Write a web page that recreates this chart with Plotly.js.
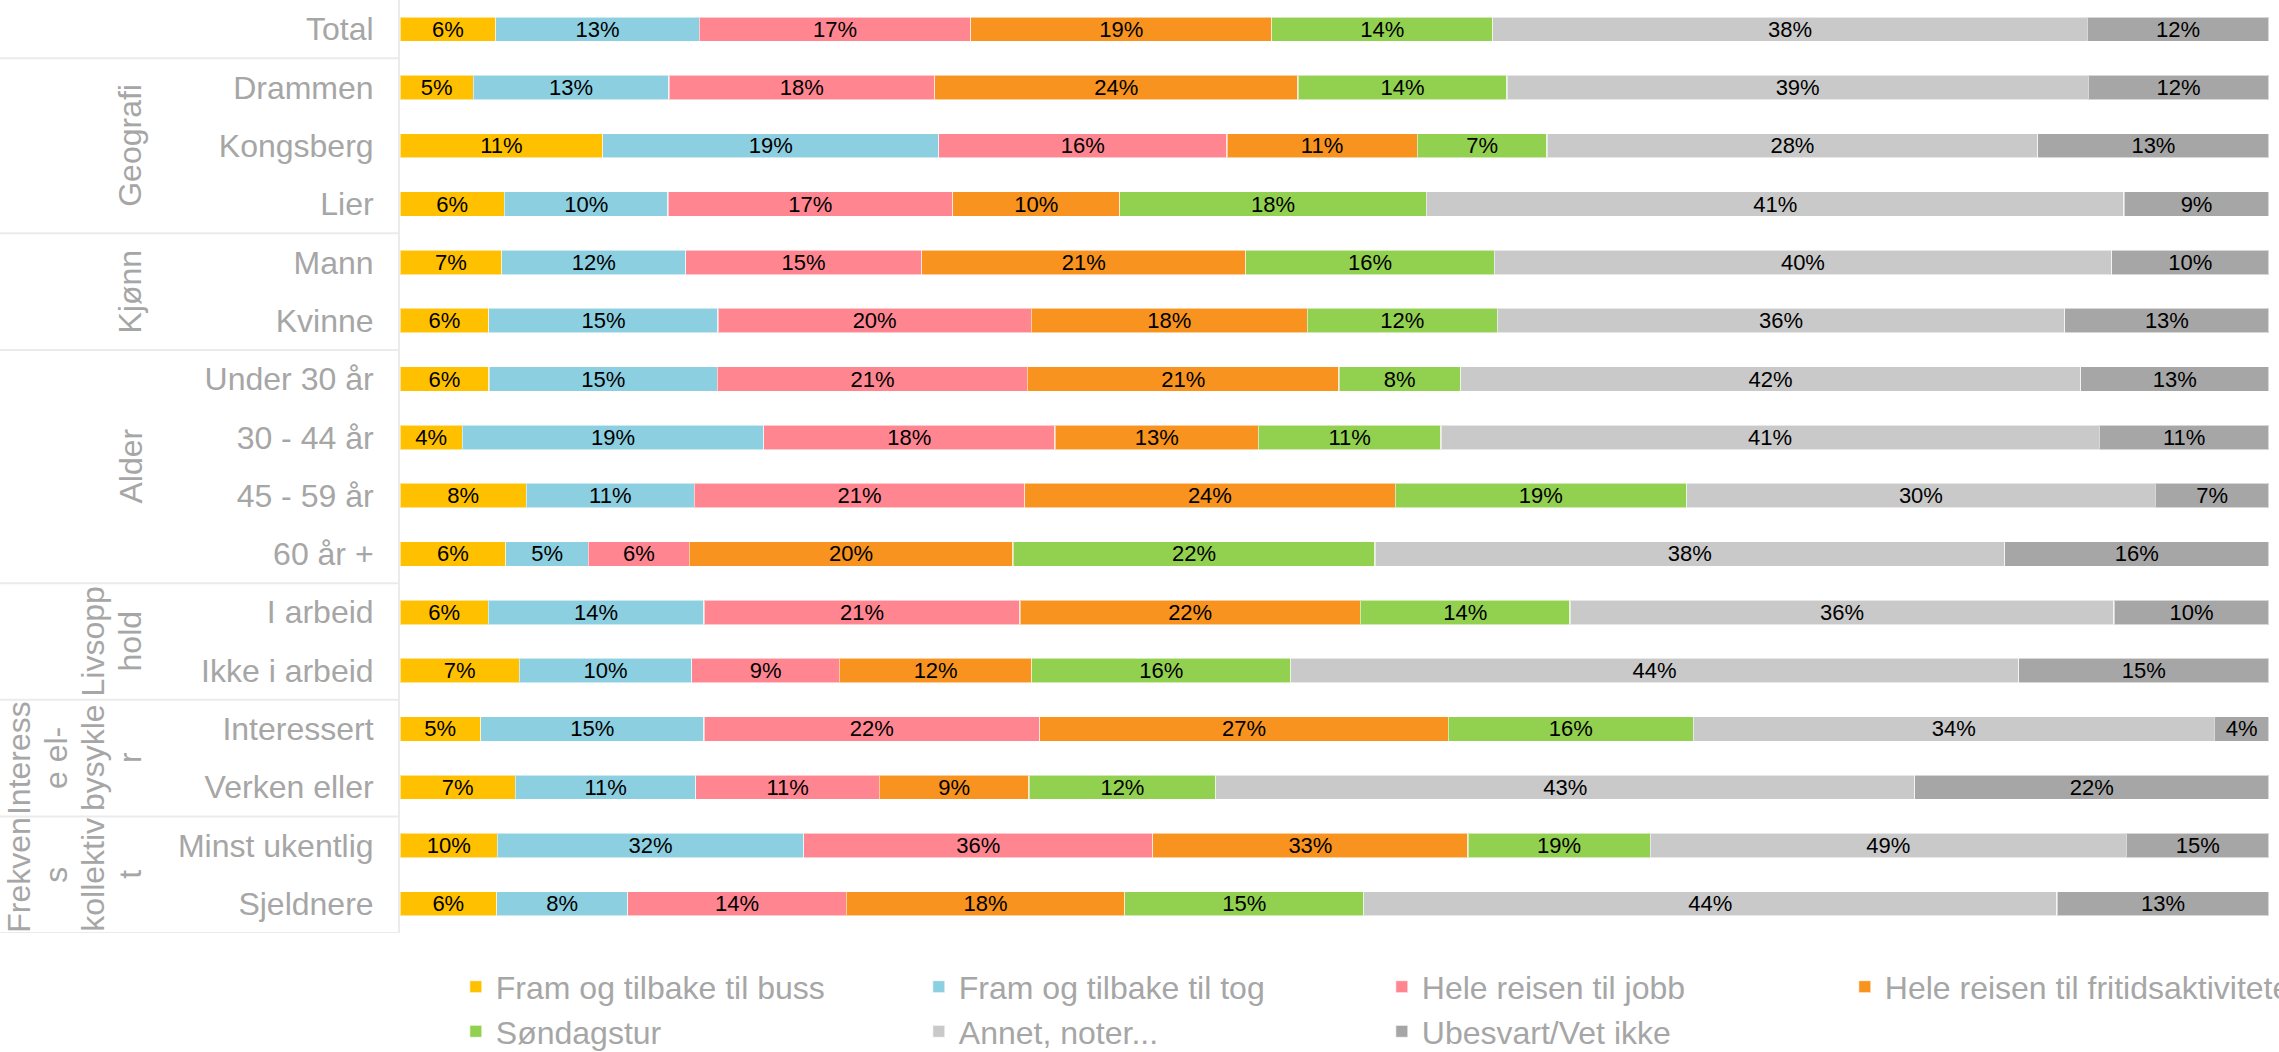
<!DOCTYPE html>
<html>
<head>
<meta charset="utf-8">
<script src="https://cdn.plot.ly/plotly-3.0.1.min.js"></script>
<style>
  html, body { margin: 0; padding: 0; background: #ffffff; }
  #chart { width: 2279px; height: 1052px; }
</style>
</head>
<body>
<div id="chart"></div>
<script>
// Categories (top to bottom)
const categories = ["Total", "Drammen", "Kongsberg", "Lier", "Mann", "Kvinne",
  "Under 30 år", "30 - 44 år", "45 - 59 år", "60 år +", "I arbeid", "Ikke i arbeid",
  "Interessert", "Verken eller", "Minst ukentlig", "Sjeldnere"];

// Group labels (wrapped as in the original, one entry per line) with first/last category index
const groupLines = [["Geografi"], ["Kjønn"], ["Alder"], ["Livsopp", "hold"],
  ["Interess", "e el-", "bysykle", "r"], ["Frekven", "s", "kollektiv", "t"]];
const groupStart = [1, 4, 6, 10, 12, 14];
const groupEnd   = [3, 5, 9, 11, 13, 15];

// Series names
const seriesNames = ["Fram og tilbake til buss", "Fram og tilbake til tog", "Hele reisen til jobb",
  "Hele reisen til fritidsaktiviteter", "Søndagstur", "Annet, noter...", "Ubesvart/Vet ikke"];

// Series values (percent of respondents, per category)
const buss     = [6.1, 4.9, 11.4, 6.2, 6.6, 5.7, 6.0, 3.9, 8.1, 6.4, 5.8, 7.2, 5.3, 7.1, 10.1, 6.1];
const tog      = [13.0, 13.1, 18.9, 9.7, 11.9, 14.7, 15.4, 18.8, 10.8, 5.0, 14.2, 10.4, 14.7, 11.1, 31.8, 8.3];
const jobb     = [17.3, 17.8, 16.2, 16.9, 15.3, 20.1, 20.9, 18.2, 21.2, 6.1, 20.8, 8.9, 22.1, 11.3, 36.2, 13.8];
const fritid   = [19.2, 24.3, 10.7, 9.9, 21.0, 17.7, 21.0, 12.7, 23.8, 19.6, 22.4, 11.6, 26.9, 9.2, 32.7, 17.6];
const sondag   = [14.1, 14.0, 7.3, 18.2, 16.1, 12.2, 8.2, 11.4, 18.7, 21.9, 13.8, 15.6, 16.1, 11.5, 18.9, 15.1];
const annet    = [37.9, 38.9, 27.6, 41.4, 40.0, 36.4, 41.8, 41.1, 30.1, 38.1, 35.8, 43.9, 34.3, 43.0, 49.4, 43.8];
const ubesvart = [11.6, 12.1, 13.0, 8.6, 10.2, 13.1, 12.7, 10.6, 7.3, 16.0, 10.2, 15.1, 3.6, 21.8, 14.8, 13.4];

const seriesValues = [buss, tog, jobb, fritid, sondag, annet, ubesvart];
const seriesColors = ["#FFC000", "#8BCFE0", "#FF8591", "#F7931E", "#92D050", "#C9C9C9", "#A6A6A6"];

const FONT = "Liberation Sans, Arial, Helvetica, sans-serif";
const GRAY = "#a6a6a6";
const LINE = "#ebebeb";

const traces = seriesValues.map((vals, i) => ({
  type: "bar",
  orientation: "h",
  name: seriesNames[i],
  y: categories,
  x: vals,
  text: vals.map(v => Math.round(v) + "%"),
  textposition: "inside",
  insidetextanchor: "middle",
  textangle: 0,
  constraintext: "none",
  textfont: { family: FONT, size: 22, color: "#000000" },
  marker: { color: seriesColors[i], line: { color: "rgba(255,255,255,0.55)", width: 1.2 } },
  hoverinfo: "skip"
}));

// Group labels: one rotated annotation per wrapped line
const annotations = [];
groupLines.forEach((lines, i) => {
  const n = lines.length;
  lines.forEach((ln, k) => {
    const cx = 130 - (n - 1 - k) * 37;
    annotations.push({
      xref: "paper", x: 0, xanchor: "center", xshift: cx - 400,
      yref: "y", y: (groupStart[i] + groupEnd[i]) / 2, yanchor: "middle",
      text: ln, textangle: -90, showarrow: false, align: "center",
      font: { family: FONT, size: 32, color: GRAY }
    });
  });
});

const boundaries = [0.5, 3.5, 5.5, 9.5, 11.5, 13.5, 15.5];
const shapes = boundaries.map(b => ({
  type: "line", xref: "paper", xsizemode: "pixel", xanchor: 0, x0: -400, x1: 0,
  yref: "y", y0: b, y1: b, line: { color: LINE, width: 2 }
}));

const layout = {
  width: 2279, height: 1052,
  margin: { l: 400, r: 10, t: 0, b: 119, pad: 0 },
  paper_bgcolor: "#ffffff", plot_bgcolor: "#ffffff",
  barmode: "stack", barnorm: "percent", bargap: 0.58,
  font: { family: FONT, color: GRAY },
  showlegend: true,
  legend: {
    orientation: "h", xref: "container", yref: "container",
    x: 0.2, xanchor: "left", y: 0.088, yanchor: "top",
    entrywidth: 418, entrywidthmode: "pixels",
    traceorder: "normal",
    font: { family: FONT, size: 32, color: GRAY },
    bgcolor: "rgba(0,0,0,0)"
  },
  xaxis: { range: [0, 100], visible: false, fixedrange: true },
  yaxis: {
    type: "category", categoryorder: "array", categoryarray: categories,
    range: [15.5, -0.5], showgrid: false, zeroline: false,
    showline: true, linecolor: LINE, linewidth: 2, ticks: "",
    ticklabelstandoff: 18,
    tickfont: { family: FONT, size: 32, color: GRAY }, fixedrange: true
  },
  annotations: annotations,
  shapes: shapes
};

Plotly.newPlot("chart", traces, layout, { displayModeBar: false, staticPlot: true });
</script>
</body>
</html>
